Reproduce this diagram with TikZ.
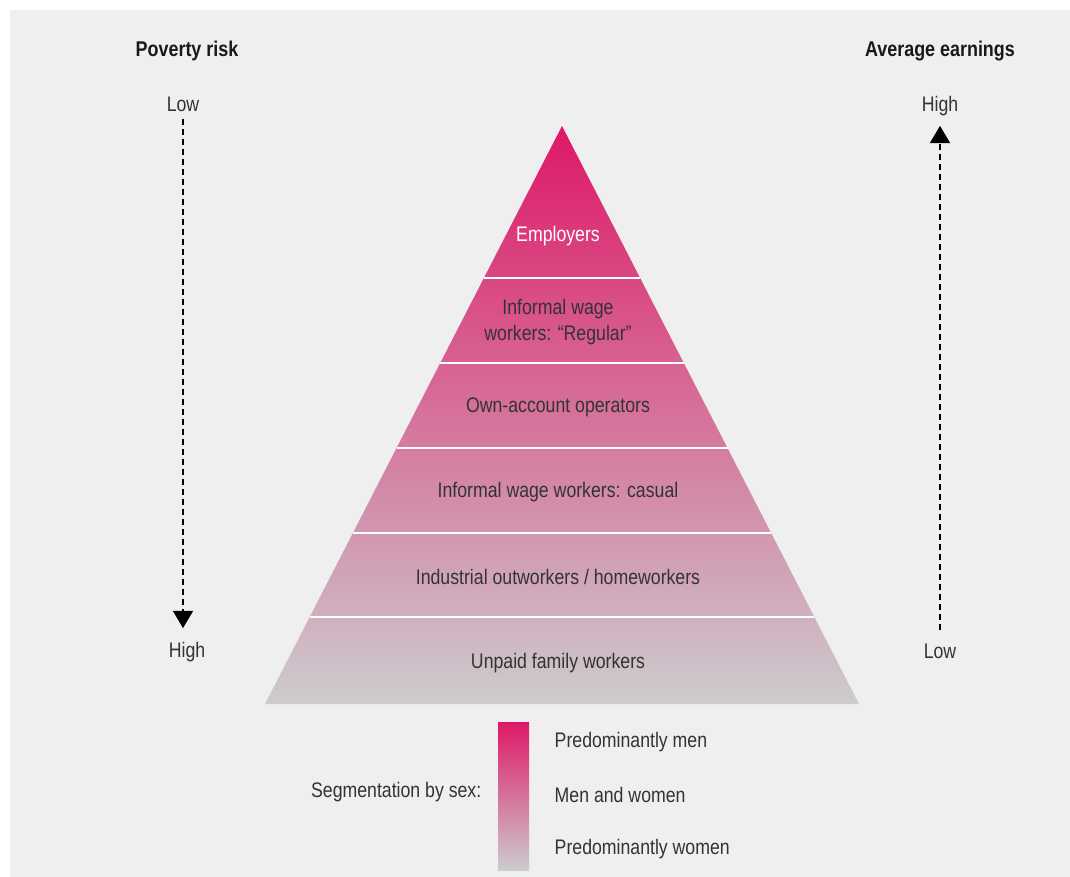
\documentclass[tikz,border=0pt]{standalone}
\usepackage{fontspec}
\setmainfont{Liberation Sans}[FakeStretch=0.84]
\usetikzlibrary{arrows.meta}
\definecolor{panelgray}{RGB}{239,239,239}
\definecolor{menpink}{RGB}{222,24,104}
\definecolor{midpink}{RGB}{214,126,140}
\definecolor{womengray}{RGB}{205,204,206}
\definecolor{inkgray}{RGB}{51,51,51}

\begin{document}
\begin{tikzpicture}[x=0.75pt,y=-0.75pt,
  head/.style={font=\fontsize{16}{19}\selectfont\bfseries,text=black!90},
  axislabel/.style={font=\fontsize{15.8}{19}\selectfont,text=inkgray},
  band/.style={font=\fontsize{15.8}{19.5}\selectfont,text=inkgray,align=center},
  axisarrow/.style={dashed,dash pattern=on 4.5pt off 3pt,line width=1.4pt,-{Triangle[width=15pt,length=13pt]}},
  sepline/.style={white,line width=2.2pt},
  sexshade/.style={top color=menpink,middle color=midpink,bottom color=womengray}]
\useasboundingbox (0,0) rectangle (1070,877);
\fill[panelgray] (10,10) rectangle (1070,877);
\shade[sexshade] (562,126) -- (859,704) -- (265,704) -- cycle;
\draw[sepline] (483.9,278) -- (640.1,278);
\draw[sepline] (440.2,363) -- (683.8,363);
\draw[sepline] (396.5,448) -- (727.5,448);
\draw[sepline] (352.9,533) -- (771.1,533);
\draw[sepline] (309.7,617) -- (814.3,617);
\node[band,text=white] (employers) at (558,236) {Employers};
\node[band] (regular) at (558,322) {Informal wage\\workers: “Regular”};
\node[band] (ownacc) at (558,407) {Own-account operators};
\node[band] (casual) at (558,492) {Informal wage workers: casual};
\node[band] (outwork) at (558,577) {Industrial outworkers / homeworkers};
\node[band] (unpaid) at (558,663) {Unpaid family workers};
\node[head] (povhead) at (187,51) {Poverty risk};
\node[head] (earnhead) at (940,51) {Average earnings};
\node[axislabel] (povlow) at (183,104) {Low};
\node[axislabel] (povhigh) at (187,652) {High};
\node[axislabel] (earnhigh) at (940,106) {High};
\node[axislabel] (earnlow) at (940,651) {Low};
\draw[axisarrow,shorten <=2pt,shorten >=7pt] (povlow) -- (povhigh.north -| povlow);
\draw[axisarrow,shorten <=7pt,shorten >=4pt] (earnlow) -- (earnhigh);
\shade[sexshade] (498,722) rectangle (529,870);
\node[axislabel,anchor=east] (sexlabel) at (486,792) {Segmentation by sex:};
\node[axislabel,anchor=west] (menkey) at (550,742) {Predominantly men};
\node[axislabel,anchor=west] (mixkey) at (550,795) {Men and women};
\node[axislabel,anchor=west] (womenkey) at (550,849) {Predominantly women};
\end{tikzpicture}
\end{document}
